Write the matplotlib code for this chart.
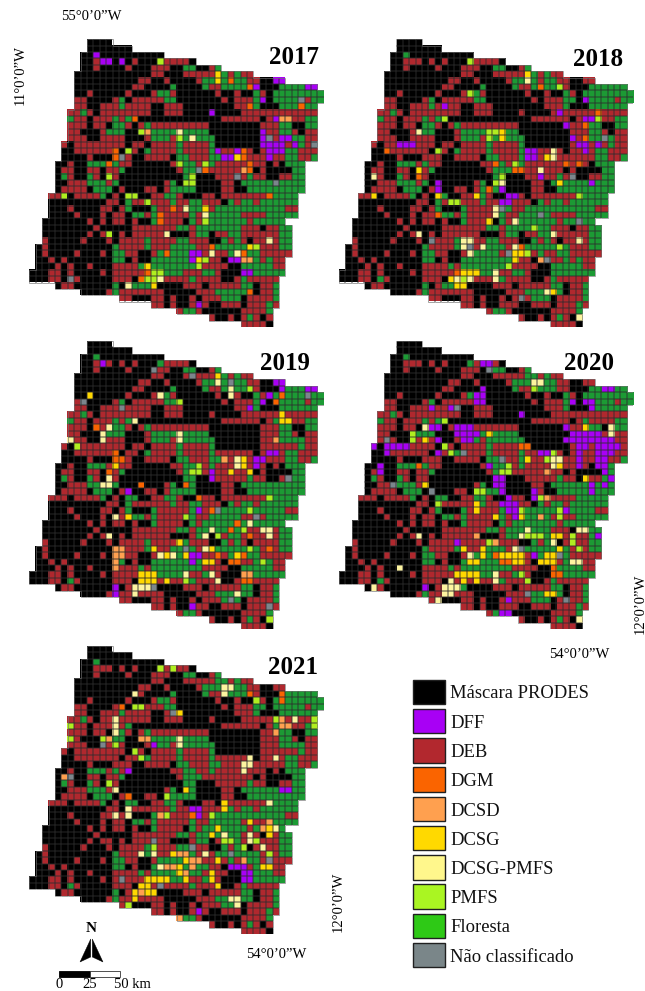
import numpy as np
import matplotlib
matplotlib.use("Agg")
import matplotlib.pyplot as plt
from matplotlib.colors import ListedColormap
from matplotlib.collections import LineCollection
from matplotlib.patches import Rectangle, Polygon

W, H = 645, 991
plt.rcParams['font.family'] = ['Liberation Serif', 'DejaVu Serif']

CLASS_CODES = list("KPRODYLMGN")
CLASS_NAMES = ["Máscara PRODES", "DFF", "DEB", "DGM", "DCSD", "DCSG", "DCSG-PMFS", "PMFS", "Floresta", "Não classificado"]
MAP_COLORS = ["#000000", "#a800f5", "#b0282e", "#f96400", "#ffa050", "#ffd800", "#fdf4a0", "#b0ee20", "#1c9a34", "#7b868c"]
LEGEND_COLORS = ["#000000", "#a800f5", "#b2282e", "#fa6400", "#ffa04f", "#ffd900", "#fff78c", "#aaf522", "#2ec916", "#7a8689"]

BASE = [
".........KKKK",
".........KKKKKKK",
"........KKGKKKKKKKKKK",
"........KKRRRKRKRKKKGRRRRK",
"........KKRKKKKRKKKRRRKKGGKKRG",
".......KKKKKKKKKKKKRRKKKRRRRRGGRGRR",
".......KKKKKKKKKKRRKKRKKKKRGGGGRGGRRKKRR",
".......KKKKKKKKKRRKKKKGKKKKGRRGGGGRRKKKGGGGGG",
".......KKRKKKKKRKKKRGGRKKKKKKRKKRKKGRKGGGGGGGG",
".......RRKKKKRGKRRRRRGGKKKKKKKRKRRRGGKGGGGGRGG",
".......RRKKRRRGRRRRKKRRRKKKKKKKKRRRGKKKGGGGGG",
"......RRGRKRRRRRRRRKKRRRKKKKRKKKKRRRRRRRRRRRR",
"......GRRKRRRGRGKKKKKKKKKKKKKKRRRRRRKRGRRRRGG",
"......RRRKRRKGGRKRGRRRRRRRRRKKKKKKKKRRRGGKKGG",
"......RRKKKRGGGKKKRGGGGGGGGGKKKKKKKKRRRGGRKRR",
"......RRRKKRRRRKKKRGGGRGGGGGGKKKKKKKRRRGGGGRR",
".....RKRRRRRRRRKRRKRRRRGRRRRGKKKKKKKRRRRRRGRR",
".....KKRRRRRRRKRRKGRRRRGRRRRGRRRRRRKRRRRGGRRR",
".....KKKKRKKKRRRKKRRRRKGGRRRGGRRRRRRRRRRGGRRG",
"....KKRKKGGGRGRRKKKKKKRRGGRRGRRRRRRRRKRKGGG",
"....KRRKKRRKRRGKKKKKKKKRGGGRRRRRRRRKRKKKKGG",
"....KGRKKGRKRRKKKKKKKKKKGGKKKRRRRRGRRKKRRGG",
"....KKRRRGGGRGKKKKKKKRGKGGKKKKRRKGGGGGGGGGG",
"....KRRRRKGGGKRKKKRRKRGGGGKKKKRRKKGGGGGGGGG",
"...RRRKRRRRGKRKGGKKRRGGRKKKRRKRRRRRRRGGGGG",
"...KKKKKKKKKRRKGRRRRRRGRRGGRRRKGRGGRGGGGGG",
"...KKKRKKKKRRKRGKKKGRRRRRGGRRGGGGGGGGGGGRR",
"...KKKKRKKKRKRRKGGRGRRRRRGRRGGGGGRRRRGGGGG",
"..KKKKKKKRKRKRRKRKKGRRRRKGRGGGGGGGRGGGGG",
"..KKKKKKKKRKKKKKRRRRRRRGGRGGGGGGGRRRKRRGG",
"..KKKKKKKRKRRKRKRRRRRRKKKRGGKRRGGRRRRRRGG",
"..RKKKKKRKKKRKRRRRGRRRRGGRRRKKGRGRKRRRRGG",
".KRKKKKKKKKKKGRRRRGRRRGGGGRRRGGGGGGGRRRGG",
".KRKKKKRKKKRKGGRRKKRGGGGGRRRRRRGRRGGRRRRR",
".KKRKRKKKKKKKGGKRKKGGGGGGGGGRRKRRRRGRGRR",
".KKKRKRKKRKKKRRRRGRGGGGGGGGRRRRKKGGGGGRR",
"KKKRRKRKKKKRKRRRRRRGGGGGRRRGGRKKKGGGGGGG",
"KKKRRKGRKKKKKRRRKRRRRRRRRGRRRRKKRGRRRRR",
"....KRRKKKKKKGKRGGGGKKKKRRRKRRRRRGGKRRG",
"........KKKKRGRRRRRRRKKKKKRRRGGGGGGKRRG",
"..............RRKKKRRKRKKRKRRRGGGKRRRRG",
"...................RRKRKKRRRKKRRRKRRRGR",
".......................RGGRKKKKKKRRRRG",
"............................RKKRKRGRKR",
".................................RRRRK",
]

CHANGES_2017 = {
"P": [(2,10),(3,11),(3,12),(3,14),(6,38),(6,39),(7,35),(7,43),(7,44),(9,36),(11,28),(12,38),(14,36),(15,36),(15,39),(15,40),(16,36),(16,37),(16,38),(16,39),(16,41),(17,37),(17,38),(17,39),(17,29),(17,32),(18,30),(18,31),(18,37),(33,25),(33,26),(34,25),(34,31),(34,32),(36,33),(36,34),(41,26)],
"O": [(6,31),(7,34),(10,34),(10,42),(12,16),(17,13),(18,13),(17,33),(18,33),(19,12),(19,34),(20,27),(20,34),(24,37),(26,22),(27,20),(28,20),(32,28),(33,21),(33,33),(36,18),(37,17),(39,34)],
"D": [(12,39),(12,40),(14,18),(20,33),(34,33),(34,34)],
"Y": [(5,29),(6,29),(18,32),(26,27),(32,34),(34,26),(35,18),(38,19)],
"L": [(14,23),(15,25),(26,24),(27,27),(30,21),(31,37),(33,28),(33,32),(37,20),(38,15)],
"M": [(3,20),(14,17),(15,23),(17,15),(19,23),(19,27),(21,12),(21,25),(22,24),(22,25),(24,5),(24,15),(24,16),(25,18),(28,27),(30,12),(32,35),(34,27),(35,26),(36,19),(36,20),(37,18),(37,19)],
"N": [(9,42),(15,37),(16,44),(18,14),(20,26),(21,32),(22,38),(37,6)],
}
CHANGES_2018 = {
"P": [(10,16),(9,38),(11,34),(12,38),(12,39),(13,35),(15,36),(16,37),(16,38),(16,40),(17,38),(16,9),(16,10),(16,11),(17,29),(17,30),(18,29),(18,30),(22,15),(23,15),(23,25),(24,26),(24,27),(25,25),(25,26),(21,31),(22,39)],
"O": [(7,31),(11,40),(13,38),(15,38),(17,7),(19,24),(20,27),(20,28),(19,35),(19,37),(21,12),(23,23),(27,15),(32,28),(36,18)],
"D": [(34,31)],
"Y": [(5,29),(18,32),(15,25),(14,25),(20,12),(22,34),(24,5),(24,15),(24,21),(28,23),(33,27),(33,28),(34,27),(36,19),(36,20),(36,21),(37,17),(38,18),(38,19),(39,33)],
"L": [(6,29),(14,12),(21,5),(17,33),(18,33),(20,31),(22,25),(26,24),(27,24),(28,27),(30,33),(31,37),(30,12),(31,19),(31,20),(32,19),(32,22),(33,20),(32,27),(37,18),(37,20),(36,24),(37,24),(39,32),(43,37)],
"M": [(3,20),(8,20),(7,34),(12,16),(12,40),(14,23),(15,23),(14,24),(17,15),(19,27),(21,25),(22,24),(25,17),(25,18),(24,37),(29,30),(32,34),(33,29),(35,26),(37,19)],
"N": [(15,41),(21,36),(26,25),(27,31),(28,37),(31,14),(32,20),(33,26),(34,32),(40,28)],
}
CHANGES_2019 = {
"P": [(3,11),(6,38),(6,39),(7,39),(7,43),(7,44),(8,37),(9,36),(10,34),(18,35),(18,36),(19,35),(17,37),(17,38),(20,28),(21,28),(23,15),(33,25),(33,26),(34,25),(26,26),(38,13),(39,13),(41,25)],
"O": [(13,10),(17,13),(18,13),(18,14),(20,12),(22,17),(22,24),(24,26),(26,28),(28,32),(29,31),(30,34),(32,37),(33,29),(33,33),(34,31),(34,32),(37,33),(37,34),(8,39),(9,38)],
"D": [(15,38),(18,30),(32,13),(32,14),(33,13),(33,14),(34,13),(35,13),(36,33),(36,34)],
"Y": [(5,29),(8,9),(11,39),(12,39),(12,40),(18,33),(19,33),(20,31),(20,34),(19,13),(27,15),(31,23),(32,19),(32,28),(33,21),(33,24),(33,32),(34,27),(34,28),(36,17),(36,18),(36,19),(37,17),(37,18),(37,19),(37,21)],
"L": [(6,29),(7,31),(8,20),(8,31),(12,16),(13,12),(14,11),(15,11),(15,6),(14,23),(15,23),(18,32),(19,32),(21,12),(22,11),(22,12),(27,13),(30,12),(29,28),(30,27),(28,34),(29,36),(29,37),(30,37),(33,20),(33,22),(32,27),(36,24),(36,28),(37,29),(38,16),(38,17),(38,18),(39,16),(39,32)],
"M": [(9,23),(16,7),(19,26),(20,25),(20,26),(27,24),(24,37),(26,34),(29,33),(30,29),(32,34),(34,36),(37,24),(7,34),(43,37)],
"N": [(4,19),(5,25),(6,31),(8,43),(9,8),(10,14),(21,40),(26,29),(27,35),(32,24),(38,19),(40,31),(41,37)],
}
CHANGES_2020 = {
"P": [(3,22),(3,23),(7,22),(8,22),(8,21),(9,21),(9,22),(7,41),(7,42),(9,36),(9,38),(9,39),(10,39),(10,14),(10,17),(11,28),(13,14),(13,15),(13,18),(13,19),(13,20),(14,18),(14,19),(14,20),(14,21),(15,19),(15,20),(13,35),(15,15),(14,36),(14,37),(14,38),(14,39),(14,40),(15,35),(15,36),(15,37),(15,38),(15,39),(15,40),(15,41),(15,42),(16,37),(16,38),(16,40),(16,41),(16,42),(17,37),(17,40),(17,41),(17,42),(18,37),(18,40),(18,41),(19,37),(19,40),(19,41),(20,41),(16,43),(16,5),(16,7),(16,8),(16,9),(16,10),(17,7),(17,15),(19,6),(20,6),(19,23),(21,24),(21,25),(22,24),(22,25),(23,25),(17,31),(17,32),(21,42),(22,39),(23,39),(22,41),(23,30),(24,30),(24,26),(25,25),(25,26),(25,27),(26,26),(26,27),(27,27),(26,35),(30,40),(31,18),(33,30),(38,13),(42,25),(42,26),(40,26)],
"O": [(19,12),(16,28),(16,29),(33,24),(34,25),(34,26),(35,33),(36,33),(36,34),(39,17)],
"D": [(24,32),(27,31),(20,32),(30,21),(31,24)],
"Y": [(13,38),(14,23),(15,13),(18,29),(19,34),(21,38),(22,13),(25,21),(26,21),(27,24),(27,28),(32,19),(32,22),(33,22),(33,25),(33,26),(33,27),(33,28),(34,27),(34,28),(34,20),(34,21),(33,32),(33,33),(34,31),(34,32),(34,33),(30,33),(30,34),(36,18),(36,19),(36,20),(36,21),(37,19),(37,21),(39,32),(39,33),(32,34)],
"L": [(13,13),(6,30),(6,31),(13,42),(14,42),(18,33),(18,34),(19,33),(29,37),(29,38),(29,29),(30,28),(30,12),(36,24),(37,24),(32,27),(31,33),(33,20),(34,36),(34,37),(35,9),(37,17),(38,16),(38,17),(38,18),(39,16),(39,17),(38,5),(40,15),(43,37)],
"M": [(12,16),(14,11),(15,11),(7,30),(16,16),(17,17),(17,33),(18,32),(19,26),(20,25),(20,26),(23,21),(23,22),(24,31),(25,15),(26,28),(27,34),(26,34),(31,23),(30,29),(30,30),(30,31),(30,36),(31,36),(32,37),(36,28),(37,29)],
"N": [(15,7),(17,19),(4,23),(10,18),(18,25),(22,8),(23,14),(32,28),(33,34),(39,29),(40,35)],
}
CHANGES_2021 = {
"P": [(15,19),(19,15),(22,39),(22,40),(25,25),(25,26),(26,26),(34,31),(34,32),(34,33),(35,33),(35,34),(36,33),(36,34),(41,26)],
"O": [(9,14),(7,34),(7,39),(8,39),(23,15),(26,25)],
"D": [(11,39),(12,39),(12,40),(13,38),(14,17),(14,18),(14,12),(20,5),(26,20),(27,37),(28,36),(30,31),(32,23),(32,24),(33,25),(33,26),(34,25),(33,33),(34,21),(34,22),(35,24),(38,17),(42,23)],
"Y": [(10,23),(22,24),(24,30),(25,30),(27,34),(28,29),(29,37),(28,37),(29,28),(32,22),(33,24),(33,29),(34,23),(35,23),(34,36),(34,37),(35,28),(36,28),(36,18),(36,19),(36,20),(36,21),(37,17),(37,18),(37,29),(38,16),(38,18),(38,19),(39,16),(36,24)],
"L": [(7,16),(6,30),(6,31),(7,30),(11,13),(12,13),(13,13),(14,23),(15,23),(11,41),(17,38),(18,33),(18,34),(17,34),(19,33),(22,13),(25,15),(26,15),(26,13),(24,37),(28,38),(29,30),(30,34),(29,34),(31,36),(32,17),(32,19),(32,27),(34,20),(39,31),(39,32),(40,32)],
"M": [(3,20),(3,22),(12,6),(14,6),(14,11),(15,13),(9,16),(9,17),(16,16),(17,17),(8,35),(11,38),(11,44),(12,44),(21,12),(23,21),(26,21),(26,28),(30,30),(30,31),(31,33),(30,35),(31,19),(32,37),(40,15)],
"N": [(10,22),(15,11),(20,6),(30,19),(31,25),(32,31),(33,37),(36,14),(37,20)],
}
YEARS = ["2017", "2018", "2019", "2020", "2021"]
CHANGES = [CHANGES_2017, CHANGES_2018, CHANGES_2019, CHANGES_2020, CHANGES_2021]

PANEL_ORIGINS = [(29.3, 39.3), (338.7, 39.3), (29.3, 341.0), (338.7, 341.0), (29.3, 646.0)]
TITLE_POS = [(293.5, 58), (598, 59), (285, 363), (589, 363), (293, 667)]
CELL = 6.4
NCOL, NROW = 46, 45

fig = plt.figure(figsize=(W / 100, H / 100), dpi=100, facecolor="white")
cmap = ListedColormap(MAP_COLORS)


def fx(x):
    return x / W


def fy(y):
    return 1 - y / H


def cell_edges(valid):
    inner, outer = [], []
    for r in range(NROW):
        for c in range(NCOL):
            if not valid[r, c]:
                continue
            sides = [
                ((c, r), (c + 1, r), r > 0 and valid[r - 1, c]),
                ((c, r + 1), (c + 1, r + 1), r < NROW - 1 and valid[r + 1, c]),
                ((c, r), (c, r + 1), c > 0 and valid[r, c - 1]),
                ((c + 1, r), (c + 1, r + 1), c < NCOL - 1 and valid[r, c + 1]),
            ]
            for a, b, shared in sides:
                (inner if shared else outer).append((a, b))
    return inner, outer


for (ox, oy), year, changes, tpos in zip(PANEL_ORIGINS, YEARS, CHANGES, TITLE_POS):
    grid = np.full((NROW, NCOL), -1)
    for r, row in enumerate(BASE):
        for c, ch in enumerate(row[:NCOL]):
            if ch != ".":
                grid[r, c] = CLASS_CODES.index(ch)
    for code, cells in changes.items():
        for r, c in cells:
            if grid[r, c] >= 0:
                grid[r, c] = CLASS_CODES.index(code)
    ax = fig.add_axes([fx(ox), fy(oy + NROW * CELL), NCOL * CELL / W, NROW * CELL / H])
    ax.imshow(np.ma.masked_less(grid, 0), cmap=cmap, vmin=-0.5, vmax=9.5,
              extent=(0, NCOL, NROW, 0), interpolation="nearest", aspect="auto")
    inner, outer = cell_edges(grid >= 0)
    ax.add_collection(LineCollection(inner, colors="#2e2e2e", linewidths=0.35))
    ax.add_collection(LineCollection(outer, colors="#707070", linewidths=0.45))
    ax.set_xlim(0, NCOL)
    ax.set_ylim(NROW, 0)
    ax.axis("off")
    fig.text(fx(tpos[0]), fy(tpos[1]), year, fontsize=18, fontweight="bold",
             ha="center", va="center", color="black")

# Coordinate labels
LBL = 10.5
fig.text(fx(91), fy(17), "55°0’0”W", fontsize=LBL, ha="center", va="center")
fig.text(fx(20), fy(75), "11°0’0”W", fontsize=LBL, rotation=90, ha="center", va="center")
fig.text(fx(640), fy(604), "12°0’0”W", fontsize=LBL, rotation=90, ha="center", va="center")
fig.text(fx(579), fy(655), "54°0’0”W", fontsize=LBL, ha="center", va="center")
fig.text(fx(338), fy(902), "12°0’0”W", fontsize=LBL, rotation=90, ha="center", va="center")
fig.text(fx(276), fy(955), "54°0’0”W", fontsize=LBL, ha="center", va="center")

# Legend
for i, (name, col) in enumerate(zip(CLASS_NAMES, LEGEND_COLORS)):
    y0 = 679.5 + i * 29.25
    fig.add_artist(Rectangle((fx(412.5), fy(y0 + 24.5)), 32 / W, 24.5 / H, transform=fig.transFigure,
                             facecolor=col, edgecolor="#202020", linewidth=1.0))
    fig.text(fx(450), fy(y0 + 14.5), name, fontsize=13.4, ha="left", va="center", color="#111111")

# North arrow
fig.text(fx(91.5), fy(929), "N", fontsize=11, fontweight="bold", ha="center", va="center")
fig.add_artist(Polygon([(fx(90.7), fy(939)), (fx(90.7), fy(957)), (fx(80), fy(962))], closed=True,
                       transform=fig.transFigure, facecolor="black", edgecolor="black", linewidth=0.3))
fig.add_artist(Polygon([(fx(92.3), fy(939)), (fx(92.3), fy(957)), (fx(103), fy(962))], closed=True,
                       transform=fig.transFigure, facecolor="black", edgecolor="black", linewidth=0.3))

# Scale bar
fig.add_artist(Rectangle((fx(59), fy(977)), 31 / W, 6.5 / H, transform=fig.transFigure,
                         facecolor="black", edgecolor="black", linewidth=0.6))
fig.add_artist(Rectangle((fx(90), fy(977)), 30 / W, 6.5 / H, transform=fig.transFigure,
                         facecolor="white", edgecolor="#333333", linewidth=0.6))
fig.text(fx(59.5), fy(985), "0", fontsize=LBL, ha="center", va="center")
fig.text(fx(90), fy(985), "25", fontsize=LBL, ha="center", va="center")
fig.text(fx(113.5), fy(985), "50 km", fontsize=LBL, ha="left", va="center")

fig.savefig("out.png", dpi=100, facecolor="white")
